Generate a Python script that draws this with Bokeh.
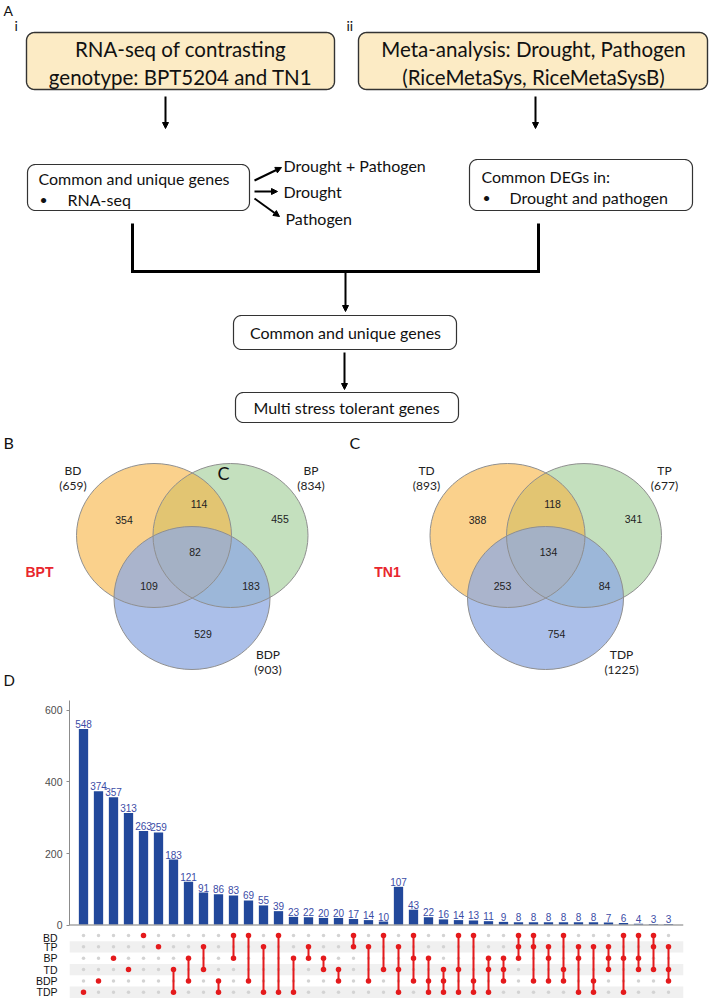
import numpy as np
from bokeh.plotting import figure
from bokeh.models import Range1d, FixedTicker, Span, Arrow, NormalHead
from bokeh.layouts import column, row
from bokeh.embed import file_html
from bokeh.resources import INLINE
from bokeh.core.properties import value

# ---------------- data ----------------
flow_top_left = ["RNA-seq of contrasting", "genotype: BPT5204 and TN1"]
flow_top_right = ["Meta-analysis: Drought, Pathogen", "(RiceMetaSys, RiceMetaSysB)"]
flow_mid_left_title = "Common and unique genes"
flow_mid_left_item = "RNA-seq"
flow_branches = ["Drought + Pathogen", "Drought", "Pathogen"]
flow_mid_right_title = "Common DEGs in:"
flow_mid_right_item = "Drought and pathogen"
flow_common = "Common and unique genes"
flow_final = "Multi stress tolerant genes"
panel_letters = ["A", "B", "C", "D"]
sub_letters = ["i", "ii"]

bpt_name = "BPT"
bpt_sets = ["BD", "BP", "BDP"]
bpt_sizes = [659, 834, 903]
# regions: A only, A&B, B only, A&B&C, A&C, B&C, C only
bpt_regions = [354, 114, 455, 82, 109, 183, 529]

tn1_name = "TN1"
tn1_sets = ["TD", "TP", "TDP"]
tn1_sizes = [893, 677, 1225]
tn1_regions = [388, 118, 341, 134, 253, 84, 754]

upset_sets = ["BD", "TP", "BP", "TD", "BDP", "TDP"]
upset_sizes = [548, 374, 357, 313, 263, 259, 183, 121, 91, 86,
               83, 69, 55, 39, 23, 22, 20, 20, 17, 14,
               10, 107, 43, 22, 16, 14, 13, 11, 9, 8,
               8, 8, 8, 8, 8, 7, 6, 4, 3, 3]
upset_members = [
    ["TDP"], ["BDP"], ["BP"], ["TD"], ["BD"], ["TP"],
    ["TD", "TDP"], ["BP", "BDP"], ["TP", "TD"], ["BDP", "TDP"],
    ["BD", "BP"], ["BD", "BDP"], ["TP", "TDP"], ["BD", "TDP"],
    ["BP", "TDP"], ["TP", "BP"], ["BP", "TD"], ["TD", "BDP"],
    ["BD", "TP"], ["TP", "BDP"], ["BD", "TD"],
    ["TP", "TD", "TDP"], ["BD", "BP", "BDP"], ["BP", "BDP", "TDP"],
    ["TD", "BDP", "TDP"], ["BD", "TD", "TDP"], ["BD", "BDP", "TDP"],
    ["BP", "TD", "TDP"], ["BP", "TD", "BDP"], ["BD", "TP", "BP"],
    ["BD", "TP", "BDP"], ["TP", "BP", "BDP"], ["BD", "TD", "BDP"],
    ["TP", "BP", "TDP"], ["TP", "BDP", "TDP"], ["TP", "BP", "TD"],
    ["BD", "BP", "TDP"], ["BD", "BP", "TD"], ["BD", "TP", "TD"],
    ["TP", "TD", "BDP"],
]
upset_ticks = [0, 200, 400, 600]

# ---------------- layout constants ----------------
W = 712
H1, H2, H3 = 690, 241, 67

FLOW_FONT = value("Lato")
NUM_FONT = value("Liberation Sans")


def rrect(x0, y0, x1, y1, r, n=10):
    xs, ys = [], []
    corners = [((x0 + r, y0 + r), 180, 270), ((x1 - r, y0 + r), 270, 360),
               ((x1 - r, y1 - r), 0, 90), ((x0 + r, y1 - r), 90, 180)]
    for (cx, cy), a0, a1 in corners:
        t = np.radians(np.linspace(a0, a1, n))
        xs.extend(cx + r * np.cos(t))
        ys.extend(cy + r * np.sin(t))
    return list(xs), list(ys)


# ---------------- top figure: flowchart + Venn ----------------
p1 = figure(width=W, height=H1, x_range=Range1d(0, W),
            y_range=Range1d(H1, 0), min_border=0,
            x_axis_location=None, y_axis_location=None,
            toolbar_location=None, output_backend="svg")
p1.grid.visible = False
p1.outline_line_color = None

boxes = [
    (26, 32, 334, 89, "#FCEBC5", 1.4),
    (358, 32, 707, 89, "#FCEBC5", 1.4),
    (27, 164, 249, 210, "white", 1.2),
    (469, 159, 692, 210, "white", 1.2),
    (233, 315, 456, 349, "white", 1.2),
    (235, 392, 458, 422, "white", 1.2),
]
for x0, y0, x1, y1, fc, lw in boxes:
    bx, by = rrect(x0, y0, x1, y1, 8)
    p1.patch(bx, by, fill_color=fc, line_color="#333333", line_width=lw)


def txt(p, x, y, s, size, align="left", font=FLOW_FONT, color="#111111", style="normal"):
    p.text(x=[x], y=[y], text=[s], text_font=font, text_font_size=size,
           text_align=align, text_baseline="middle", text_color=color,
           text_font_style=style)


txt(p1, 3, 10, panel_letters[0], "14px")
txt(p1, 14, 25, sub_letters[0], "14px")
txt(p1, 346, 25, sub_letters[1], "14px")
txt(p1, 180, 48, flow_top_left[0], "20.5px", "center")
txt(p1, 180, 76, flow_top_left[1], "20.5px", "center")
txt(p1, 533, 48, flow_top_right[0], "20.5px", "center")
txt(p1, 533, 76, flow_top_right[1], "20.5px", "center")

txt(p1, 38, 178, flow_mid_left_title, "16px")
txt(p1, 39, 199, "\u2022", "14px")
txt(p1, 67, 199, flow_mid_left_item, "16px")
txt(p1, 283, 165, flow_branches[0], "16px")
txt(p1, 283, 191, flow_branches[1], "16px")
txt(p1, 285, 218, flow_branches[2], "16px")

txt(p1, 481, 176, flow_mid_right_title, "16px")
txt(p1, 482, 197, "\u2022", "14px")
txt(p1, 509, 197, flow_mid_right_item, "16px")

txt(p1, 345, 332, flow_common, "16px", "center")
txt(p1, 346, 407, flow_final, "16px", "center")

arrows = [(165, 96, 165, 128), (535, 96, 535, 128),
          (254, 180, 281, 167), (254, 191, 277, 191), (254, 198, 279, 216),
          (345, 271, 345, 311), (344, 352, 344, 389)]
for xs_, ys_, xe, ye in arrows:
    p1.add_layout(Arrow(end=NormalHead(size=6, fill_color="black", line_color="black", line_width=1),
                        x_start=xs_, y_start=ys_, x_end=xe, y_end=ye,
                        line_width=2, line_color="black"))

p1.line([132, 132, 538, 538], [223, 271, 271, 223], line_width=3,
        line_color="black", line_join="miter")

venn_fill = ["#F7B23F", "#89C17D", "#8FAAE2"]
venn_alpha = [0.6, 0.5, 0.75]


def venn(p, cx, sets, sizes, regions, name, name_x):
    centers = [(cx - 38, 535, 155, 144), (cx + 38.5, 535, 155, 144), (cx, 597.5, 156, 143)]
    order = [1, 0, 2]
    for i in order:
        x, y, w, h = centers[i]
        p.ellipse(x=[x], y=[y], width=[w], height=[h], fill_color=venn_fill[i],
                  fill_alpha=venn_alpha[i], line_color=None)
    for i in order:
        x, y, w, h = centers[i]
        p.ellipse(x=[x], y=[y], width=[w], height=[h], fill_color=None,
                  line_color="#8F8F8F", line_width=1)
    lab_pos = [(cx - 119, 470), (cx + 119, 470), (cx + 76, 654)]
    for (lx, ly), s, n in zip(lab_pos, sets, sizes):
        txt(p, lx, ly, s, "12px", "center", color="#222222")
        txt(p, lx, ly + 15, "(%d)" % n, "12px", "center", color="#222222")
    reg_pos = [(cx - 68, 519), (cx + 7, 503), (cx + 88, 518), (cx + 3, 551),
               (cx - 43, 585), (cx + 59, 585), (cx + 11, 633)]
    for (rx, ry), v in zip(reg_pos, regions):
        txt(p, rx, ry, str(v), "10.5px", "center", font=NUM_FONT, color="#222222")
    txt(p, name_x, 571, name, "14px", "center", font=NUM_FONT, color="#E8262D", style="bold")


venn(p1, 191.5, bpt_sets, bpt_sizes, bpt_regions, bpt_name, 39)
venn(p1, 545, tn1_sets, tn1_sizes, tn1_regions, tn1_name, 387)

# panel letters B, C, D (drawn above the Venn shapes)
txt(p1, 3, 442, panel_letters[1], "16px")
txt(p1, 349, 442, panel_letters[2], "16px")
txt(p1, 223, 472, panel_letters[2], "18px", "center")
txt(p1, 3, 679, panel_letters[3], "15px")

# ---------------- UpSet: shared x geometry ----------------
MBL, MBR = 69, 29
col0_px, col_dx = 83, 15
xs_start = 1 + (MBL - col0_px) / col_dx
xs_end = 1 + (W - MBR - col0_px) / col_dx
positions = list(range(1, len(upset_sizes) + 1))

# ---------------- bars ----------------
top_border = 10
base_px = 924.6
unit_px = 0.3578
y_lo = -((H1 + H2) - base_px) / unit_px
y_hi = (base_px - (H1 + top_border)) / unit_px

p2 = figure(width=W, height=H2, x_range=Range1d(xs_start, xs_end),
            y_range=Range1d(y_lo, y_hi), min_border_left=MBL, min_border_right=MBR,
            min_border_top=top_border, min_border_bottom=0,
            x_axis_location=None, toolbar_location=None, output_backend="svg")
p2.grid.visible = False
p2.outline_line_color = None
p2.vbar(x=positions, top=upset_sizes, width=0.62, bottom=0, fill_color="#22489B", line_color=None)
p2.text(x=positions, y=upset_sizes, text=[str(v) for v in upset_sizes],
        text_font=NUM_FONT, text_font_size="10px", text_align="center",
        text_baseline="alphabetic", y_offset=-5, text_color="#3B4CA6")
p2.add_layout(Span(location=0, dimension="width", line_color="#A6A6A6", line_width=1.5))
p2.yaxis.ticker = FixedTicker(ticks=upset_ticks)
p2.yaxis.bounds = (0, y_hi)
p2.yaxis.minor_tick_line_color = None
p2.yaxis.major_tick_in = 0
p2.yaxis.major_tick_out = 3
p2.yaxis.axis_line_color = "#8C8C8C"
p2.yaxis.major_tick_line_color = "#8C8C8C"
p2.yaxis.major_label_text_font = "Liberation Sans"
p2.yaxis.major_label_text_font_size = "10.5px"
p2.yaxis.major_label_text_color = "#4D4D4D"
p2.yaxis.major_label_standoff = 4

# ---------------- matrix ----------------
row_px = 11.35
row0_rel = 935 - (H1 + H2)
ym_top = -row0_rel / row_px
ym_bot = (H3 - row0_rel) / row_px

p3 = figure(width=W, height=H3, x_range=Range1d(xs_start, xs_end),
            y_range=Range1d(ym_bot, ym_top), min_border_left=MBL, min_border_right=MBR,
            min_border_top=0, min_border_bottom=0,
            x_axis_location=None, toolbar_location=None, output_backend="svg")
p3.grid.visible = False
p3.outline_line_color = None
stripe_rows = [i for i in range(len(upset_sets)) if i % 2 == 1]
p3.hbar(y=stripe_rows, height=1, left=xs_start, right=xs_end,
        fill_color="#F0F0F0", line_color=None)

gx, gy, rx, ry = [], [], [], []
sx0, sy0, sy1 = [], [], []
for pos, mem in zip(positions, upset_members):
    idx = [upset_sets.index(m) for m in mem]
    for r in range(len(upset_sets)):
        if r in idx:
            rx.append(pos); ry.append(r)
        else:
            gx.append(pos); gy.append(r)
    if len(idx) > 1:
        sx0.append(pos); sy0.append(min(idx)); sy1.append(max(idx))
p3.scatter(gx, gy, size=3.5, fill_color="#D3D3D3", line_color=None)
p3.segment(x0=sx0, y0=sy0, x1=sx0, y1=sy1, line_color="#E41A1C", line_width=2)
p3.scatter(rx, ry, size=5.5, fill_color="#E41A1C", line_color=None)

p3.yaxis.ticker = FixedTicker(ticks=list(range(len(upset_sets))))
p3.yaxis.major_label_overrides = {i: s for i, s in enumerate(upset_sets)}
p3.yaxis.axis_line_color = None
p3.yaxis.major_tick_line_color = None
p3.yaxis.minor_tick_line_color = None
p3.yaxis.major_label_text_font = "Liberation Sans"
p3.yaxis.major_label_text_font_size = "10.5px"
p3.yaxis.major_label_text_color = "#111111"
p3.yaxis.major_label_standoff = 6

layout = column(row(p1), column(p2, p3, spacing=0), spacing=0)
open("out.html", "w").write(file_html(layout, INLINE))
